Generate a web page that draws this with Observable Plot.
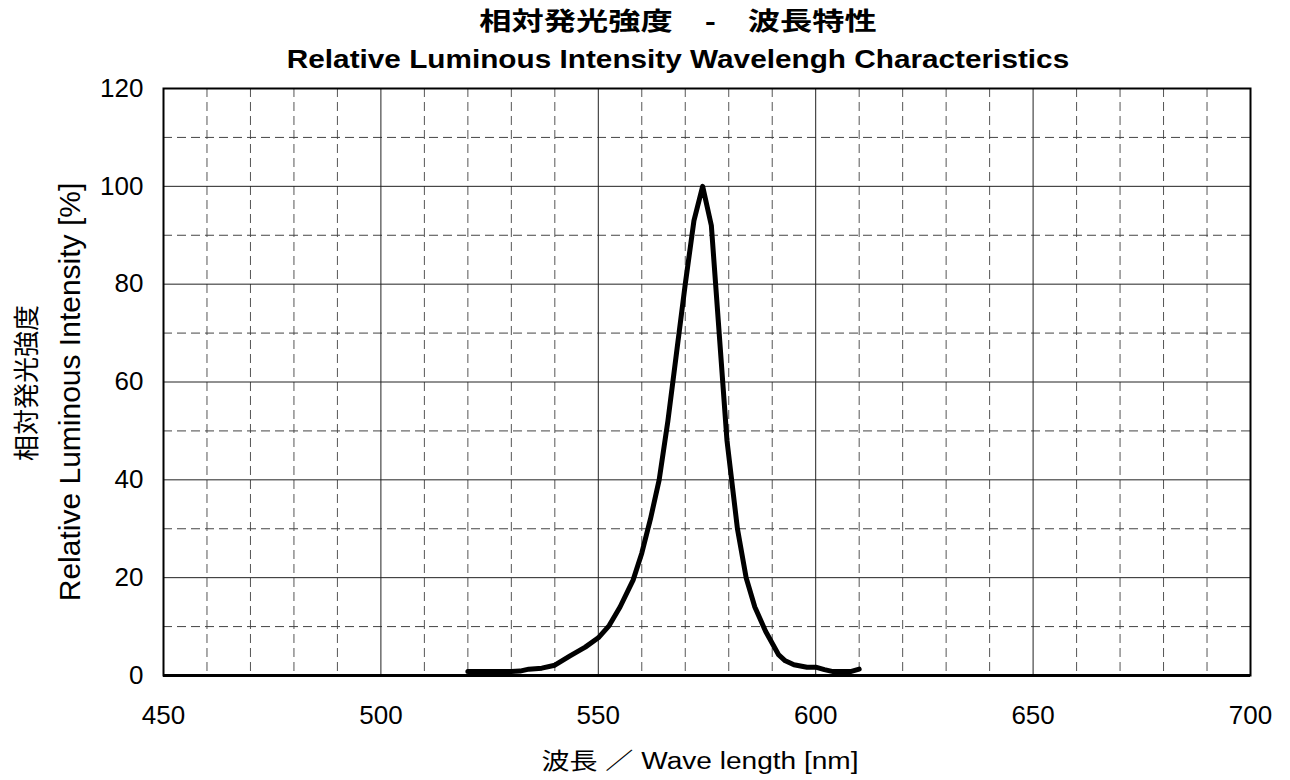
<!DOCTYPE html>
<html>
<head>
<meta charset="utf-8">
<script src="https://cdn.jsdelivr.net/npm/d3@7"></script>
<script src="https://cdn.jsdelivr.net/npm/@observablehq/plot@0.6"></script>
<style>
  body { margin:0; background:#fff; }
  #wrap { position:relative; width:1290px; height:780px; overflow:hidden; font-family:"Liberation Sans","Noto Sans CJK JP",Arial,sans-serif; color:#000; }
  #plot { position:absolute; left:0; top:60px; }
  .t { position:absolute; white-space:nowrap; line-height:1; }
</style>
</head>
<body>
<div id="wrap">
  <div id="plot"></div>
  <div class="t" id="title1" style="left:678px;top:9px;font-size:25px;font-weight:bold;transform:translateX(-50%) scaleX(1.29);">相対発光強度　-　波長特性</div>
  <div class="t" id="title2" style="left:678px;top:46px;font-size:26px;font-weight:bold;transform:translateX(-50%) scaleX(1.144);">Relative Luminous Intensity Wavelengh Characteristics</div>
  <div class="t" id="ylab1" style="left:25px;top:383px;font-size:26px;font-family:'Noto Sans CJK JP',sans-serif;transform:translate(-50%,-50%) rotate(-90deg);">相対発光強度</div>
  <div class="t" id="ylab2" style="left:70px;top:392px;font-size:30px;transform:translate(-50%,-50%) rotate(-90deg);">Relative Luminous Intensity [%]</div>
  <div class="t" id="xlab" style="left:700px;top:750px;font-size:23px;transform:translateX(-50%) scaleX(1.22);">波長 ／ Wave length [nm]</div>
</div>
<script>
// Data
const wavelength = [520, 525, 530, 532, 534, 537, 540, 543.5, 547, 550, 552.5, 555, 558, 560, 562, 564, 566, 568, 570, 572, 574, 576, 579.6, 582, 584, 586, 588.5, 591.5, 593, 595, 598, 600, 602, 604, 608, 610];
const intensity  = [0.8, 0.8, 0.8, 0.9, 1.3, 1.5, 2.1, 4.0, 5.8, 7.7, 10.2, 14, 19.5, 25, 32, 40, 52, 66, 80, 93, 100, 92, 48, 30, 20, 14, 9, 4.2, 3, 2.2, 1.7, 1.7, 1.2, 0.8, 0.8, 1.3];

const xTicks = [450, 500, 550, 600, 650, 700];
const xMinor = [460, 470, 480, 490, 510, 520, 530, 540, 560, 570, 580, 590, 610, 620, 630, 640, 660, 670, 680, 690];
const yTicks = [0, 20, 40, 60, 80, 100, 120];
const yMinor = [10, 30, 50, 70, 90, 110];

const data = wavelength.map((w, i) => ({w, v: intensity[i]}));

const chart = Plot.plot({
  width: 1290,
  height: 720,
  marginLeft: 163,
  marginRight: 40,
  marginTop: 28,
  marginBottom: 105,
  style: {fontFamily: '"Liberation Sans", Arial, sans-serif', fontSize: "26px", color: "#000", background: "transparent", overflow: "visible"},
  x: {domain: [450, 700]},
  y: {domain: [0, 120]},
  marks: [
    Plot.gridX(xMinor, {stroke: "#555", strokeOpacity: 1, strokeWidth: 1, strokeDasharray: "9,5"}),
    Plot.gridY(yMinor, {stroke: "#444", strokeOpacity: 1, strokeWidth: 1, strokeDasharray: "9,5"}),
    Plot.gridX(xTicks, {stroke: "#222", strokeOpacity: 1, strokeWidth: 1}),
    Plot.gridY(yTicks, {stroke: "#222", strokeOpacity: 1, strokeWidth: 1}),
    Plot.frame({stroke: "#000", strokeWidth: 2}),
    Plot.ruleY([0], {stroke: "#000", strokeWidth: 3}),
    Plot.axisX(xTicks, {tickSize: 0, tickPadding: 30, label: null, fontSize: 26}),
    Plot.axisY(yTicks, {tickSize: 0, tickPadding: 20, label: null, fontSize: 26}),
    Plot.line(data, {x: "w", y: "v", stroke: "#000", strokeWidth: 5, strokeLinejoin: "round", strokeLinecap: "round"})
  ]
});
document.getElementById("plot").appendChild(chart);
</script>
</body>
</html>
